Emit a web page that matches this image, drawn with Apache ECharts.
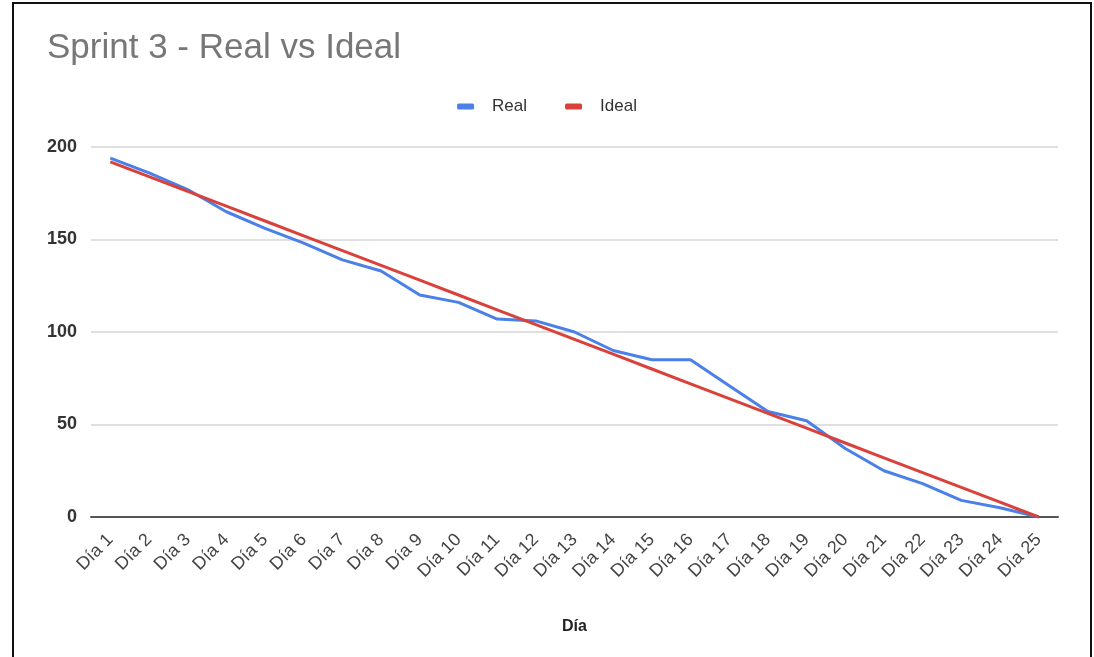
<!DOCTYPE html>
<html>
<head>
<meta charset="utf-8">
<script src="https://cdn.jsdelivr.net/npm/echarts@6/dist/echarts.min.js"></script>
<style>
html,body{margin:0;padding:0;background:#fff;width:1094px;height:657px;overflow:hidden;}
#frame{position:absolute;left:12px;top:2px;width:1080px;height:700px;border:2px solid #111;box-sizing:border-box;}
#chart{position:absolute;left:0;top:0;width:1094px;height:657px;}
</style>
</head>
<body>
<div id="frame"></div>
<div id="chart"></div>
<script>
const categories = ["Día 1","Día 2","Día 3","Día 4","Día 5","Día 6","Día 7","Día 8","Día 9","Día 10","Día 11","Día 12","Día 13","Día 14","Día 15","Día 16","Día 17","Día 18","Día 19","Día 20","Día 21","Día 22","Día 23","Día 24","Día 25"];
const realValues = [194,186,177,165,156,148,139,133,120,116,107,106,100,90,85,85,71,57,52,37,25,18,9,5,0];
const idealValues = [192,184,176,168,160,152,144,136,128,120,112,104,96,88,80,72,64,56,48,40,32,24,16,8,0];
const yTicks = {min:0, max:200, interval:50};

const chart = echarts.init(document.getElementById('chart'), null, {renderer:'canvas'});
chart.setOption({
  backgroundColor:'transparent',
  animation:false,
  textStyle:{fontFamily:'Liberation Sans, Arial, sans-serif'},
  title:{
    text:'Sprint 3 - Real vs Ideal',
    left:42, top:26,
    textStyle:{fontSize:35, fontWeight:'normal', color:'#777777', fontFamily:'Liberation Sans, Arial, sans-serif'}
  },
  legend:{
    top:93, left:'center',
    itemWidth:17, itemHeight:6, itemGap:38,
    icon:'roundRect',
    textStyle:{fontSize:17, color:'#333', padding:[0,0,0,13], fontFamily:'Liberation Sans, Arial, sans-serif'},
    data:['Real','Ideal']
  },
  grid:{left:91, right:36, top:147, bottom:140},
  xAxis:{
    type:'category',
    data:categories,
    boundaryGap:true,
    name:'Día',
    nameLocation:'middle',
    nameGap:102,
    nameTextStyle:{fontSize:16, fontWeight:'bold', color:'#222'},
    axisLine:{lineStyle:{color:'#555', width:2}},
    axisTick:{show:false},
    axisLabel:{rotate:45, fontSize:18, color:'#444', margin:20, interval:0}
  },
  yAxis:{
    type:'value',
    min:yTicks.min, max:yTicks.max, interval:yTicks.interval,
    axisLine:{show:false},
    axisTick:{show:false},
    axisLabel:{fontSize:18, color:'#333', fontWeight:'bold', margin:14},
    splitLine:{lineStyle:{color:'#e0e0e0', width:2}}
  },
  series:[
    {name:'Real', type:'line', data:realValues, showSymbol:false, symbol:'none',
     lineStyle:{color:'#4a80e8', width:3}, itemStyle:{color:'#4a80e8'}, z:2},
    {name:'Ideal', type:'line', data:idealValues, showSymbol:false, symbol:'none',
     lineStyle:{color:'#d9413a', width:3}, itemStyle:{color:'#d9413a'}, z:3}
  ]
});
</script>
</body>
</html>
